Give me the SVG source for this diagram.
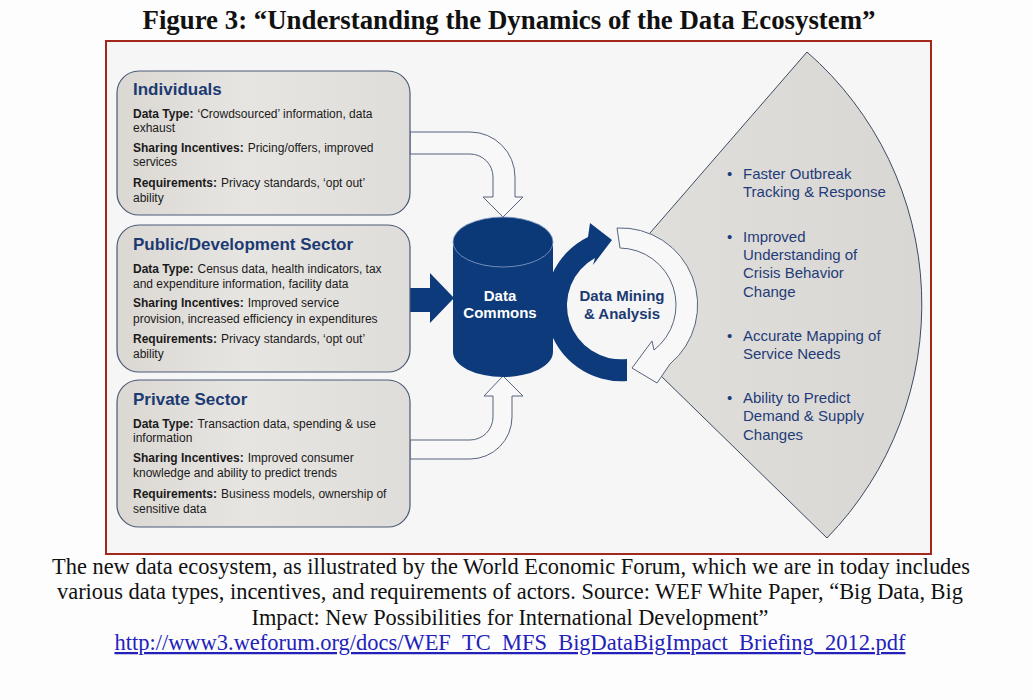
<svg xmlns="http://www.w3.org/2000/svg" width="1033" height="700" viewBox="0 0 1033 700">
  <defs>
    <linearGradient id="boxg" x1="0" y1="0" x2="1" y2="0">
      <stop offset="0" stop-color="#dbd8d3"/>
      <stop offset="0.45" stop-color="#e7e5e2"/>
      <stop offset="1" stop-color="#dfddd9"/>
    </linearGradient>
    <linearGradient id="secg" x1="0" y1="0" x2="1" y2="0">
      <stop offset="0" stop-color="#e2e0dd"/>
      <stop offset="1" stop-color="#d9d7d3"/>
    </linearGradient>
  </defs>
  <style>
    .box { fill: url(#boxg); stroke: #4b5a74; stroke-width: 1.2; }
    .ttl { font-family: "Liberation Sans", Arial, sans-serif; font-weight: bold; font-size: 17px; fill: #1c3a72; }
    .body { font-family: "Liberation Sans", Arial, sans-serif; font-size: 12px; fill: #1a1a1a; }
    .b { font-weight: bold; }
    .hollow { fill: #f8f8f8; stroke: #56647c; stroke-width: 1; }
    .navy { fill: #0c3a7a; }
    .ctext { font-family: "Liberation Sans", Arial, sans-serif; font-weight: bold; font-size: 15px; text-anchor: middle; }
    .bul { font-family: "Liberation Sans", Arial, sans-serif; font-size: 15px; fill: #1f3c78; }
    .serif { font-family: "Liberation Serif", "Times New Roman", serif; }
  </style>

  <rect x="0" y="0" width="1033" height="700" fill="#fdfdfd"/>
  <text class="serif" x="509" y="29" font-size="27" font-weight="bold" text-anchor="middle" textLength="733" lengthAdjust="spacingAndGlyphs" fill="#111">Figure 3: “Understanding the Dynamics of the Data Ecosystem”</text>

  <rect id="frame" x="106" y="41" width="825" height="513" fill="#f6f6f6" stroke="#a3281c" stroke-width="2"/>

  <!-- outcome sector -->
  <g id="outcomes">
    <path d="M588,305 L807,52 A335,335 0 0 1 827,538 Z" fill="url(#secg)"/>
    <circle cx="620" cy="305" r="77" fill="#f6f6f6"/>
    <path d="M650,233 L807,52 A335,335 0 0 1 827,538 L658,373" fill="none" stroke="#3c4a62" stroke-width="1"/>
    <g class="bul">
      <text x="727" y="179">•</text>
      <text x="743" y="179">Faster Outbreak</text>
      <text x="743" y="197">Tracking &amp; Response</text>
      <text x="727" y="242">•</text>
      <text x="743" y="242">Improved</text>
      <text x="743" y="260">Understanding of</text>
      <text x="743" y="278">Crisis Behavior</text>
      <text x="743" y="297">Change</text>
      <text x="727" y="341">•</text>
      <text x="743" y="341">Accurate Mapping of</text>
      <text x="743" y="359">Service Needs</text>
      <text x="727" y="403">•</text>
      <text x="743" y="403">Ability to Predict</text>
      <text x="743" y="421">Demand &amp; Supply</text>
      <text x="743" y="440">Changes</text>
    </g>
  </g>

  <!-- connectors -->
  <g id="connectors">
    <path class="hollow" d="M410,132 H470 A45,45 0 0 1 515,177 V197 H523 L503,217 L483,197 H493 V177 A23,23 0 0 0 470,154 H410 Z"/>
    <path class="hollow" d="M410,440 H470 A23,23 0 0 0 493,417 V396 H484 L503,376 L523,396 H512 V417 A42,42 0 0 1 470,459 H410 Z"/>
    <polygon class="navy" points="410,288 430,288 430,273 454,298 430,323 430,312 410,312"/>
  </g>

  <!-- Data Commons cylinder -->
  <g id="data-commons">
    <path class="navy" d="M453,242 V352 A50,25 0 0 0 553,352 V242 Z"/>
    <ellipse cx="503" cy="242" rx="50" ry="25" fill="#0b3876" stroke="#8aa3c9" stroke-width="0.8"/>
    <text class="ctext" x="500" y="301" fill="#ffffff">Data</text>
    <text class="ctext" x="500" y="318" fill="#ffffff">Commons</text>
  </g>

  <!-- Data Mining cycle -->
  <g id="data-mining">
    <path class="hollow" d="M617,228 A77,77 0 0 1 670,364 L657,383 L632,368 L652,341 L654,350 A57,57 0 0 0 620,248 Z"/>
    <path class="navy" d="M627,381 A76,76 0 0 1 588,237 L590,223 L612,240 L593,265 L595,258 A54,54 0 0 0 627,359 Z"/>
    <text class="ctext" x="622" y="301" fill="#1c3a72">Data Mining</text>
    <text class="ctext" x="622" y="319" fill="#1c3a72">&amp; Analysis</text>
  </g>

  <!-- Individuals -->
  <g id="individuals">
    <rect class="box" x="117" y="71" width="293" height="144" rx="22"/>
    <text class="ttl" x="133" y="95">Individuals</text>
    <text class="body" x="133" y="118"><tspan class="b">Data Type:</tspan><tspan dx="4">‘Crowdsourced’ information, data</tspan></text>
    <text class="body" x="133" y="132">exhaust</text>
    <text class="body" x="133" y="152"><tspan class="b">Sharing Incentives:</tspan><tspan dx="4">Pricing/offers, improved</tspan></text>
    <text class="body" x="133" y="166">services</text>
    <text class="body" x="133" y="187"><tspan class="b">Requirements:</tspan><tspan dx="4">Privacy standards, ‘opt out’</tspan></text>
    <text class="body" x="133" y="202">ability</text>
  </g>

  <!-- Public/Development Sector -->
  <g id="public-sector">
    <rect class="box" x="117" y="225" width="293" height="147" rx="22"/>
    <text class="ttl" x="133" y="250">Public/Development Sector</text>
    <text class="body" x="133" y="273"><tspan class="b">Data Type:</tspan><tspan dx="4">Census data, health indicators, tax</tspan></text>
    <text class="body" x="133" y="288">and expenditure information, facility data</text>
    <text class="body" x="133" y="307"><tspan class="b">Sharing Incentives:</tspan><tspan dx="4">Improved service</tspan></text>
    <text class="body" x="133" y="323">provision, increased efficiency in expenditures</text>
    <text class="body" x="133" y="343"><tspan class="b">Requirements:</tspan><tspan dx="4">Privacy standards, ‘opt out’</tspan></text>
    <text class="body" x="133" y="358">ability</text>
  </g>

  <!-- Private Sector -->
  <g id="private-sector">
    <rect class="box" x="117" y="380" width="293" height="147" rx="22"/>
    <text class="ttl" x="133" y="405">Private Sector</text>
    <text class="body" x="133" y="428"><tspan class="b">Data Type:</tspan><tspan dx="4">Transaction data, spending &amp; use</tspan></text>
    <text class="body" x="133" y="442">information</text>
    <text class="body" x="133" y="462"><tspan class="b">Sharing Incentives:</tspan><tspan dx="4">Improved consumer</tspan></text>
    <text class="body" x="133" y="477">knowledge and ability to predict trends</text>
    <text class="body" x="133" y="498"><tspan class="b">Requirements:</tspan><tspan dx="4">Business models, ownership of</tspan></text>
    <text class="body" x="133" y="513">sensitive data</text>
  </g>

  <!-- caption -->
  <g id="caption" font-size="22.5">
    <text class="serif" x="511" y="574" text-anchor="middle" textLength="918" lengthAdjust="spacingAndGlyphs" fill="#111">The new data ecosystem, as illustrated by the World Economic Forum, which we are in today includes</text>
    <text class="serif" x="510" y="599" text-anchor="middle" textLength="906" lengthAdjust="spacingAndGlyphs" fill="#111">various data types, incentives, and requirements of actors. Source: WEF White Paper, “Big Data, Big</text>
    <text class="serif" x="510" y="625" text-anchor="middle" textLength="517" lengthAdjust="spacingAndGlyphs" fill="#111">Impact: New Possibilities for International Development”</text>
    <text class="serif" x="510" y="650" text-anchor="middle" textLength="791" lengthAdjust="spacingAndGlyphs" fill="#2222bb" text-decoration="underline">http://www3.weforum.org/docs/WEF_TC_MFS_BigDataBigImpact_Briefing_2012.pdf</text>
  </g>
</svg>
